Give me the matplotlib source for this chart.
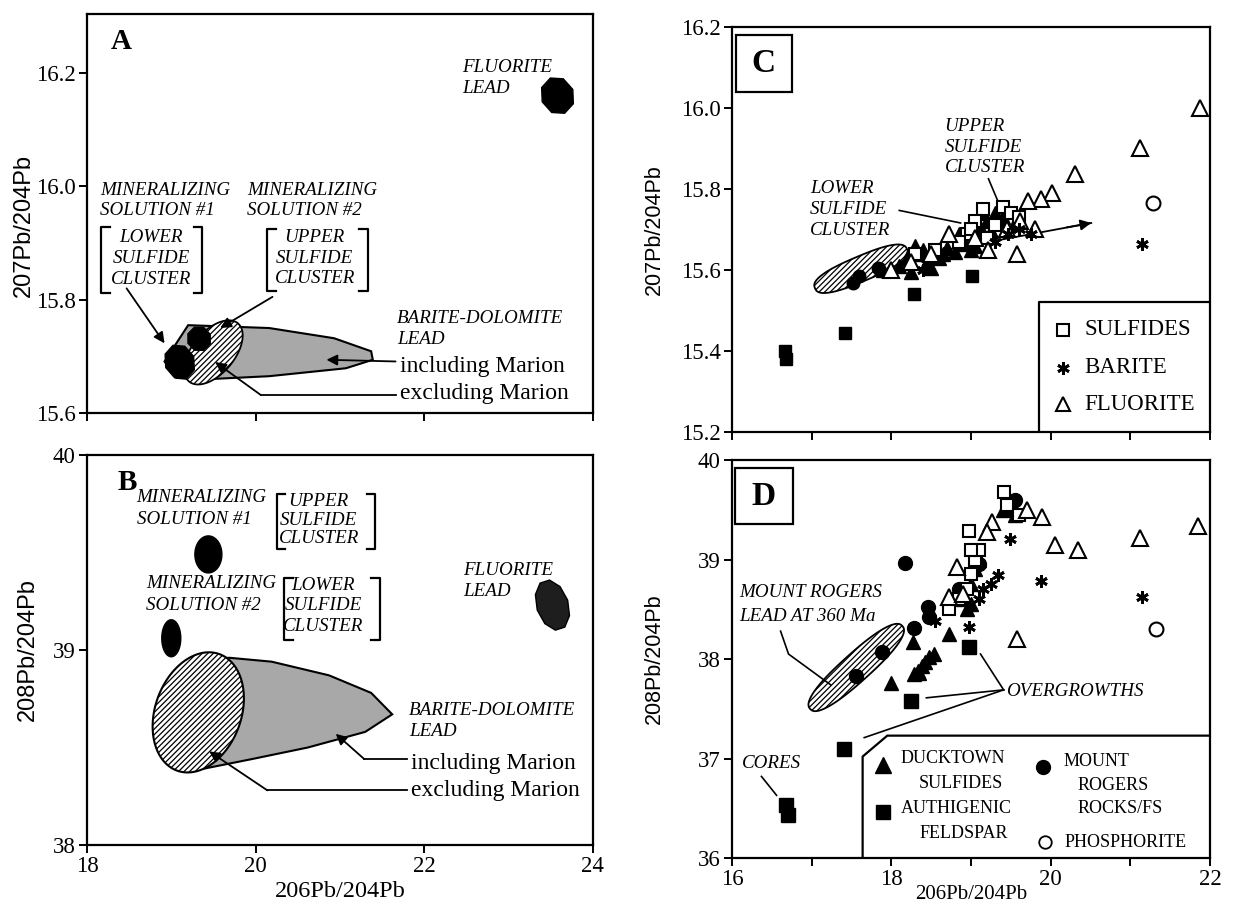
import numpy as np
import matplotlib.pyplot as plt
from matplotlib.patches import Polygon, Rectangle

plt.rcParams['font.family'] = 'Liberation Serif'
plt.rcParams['hatch.linewidth'] = 0.9

# ---------------- data ----------------
# panel A / B outlines (206Pb/204Pb vs 207Pb/204Pb, 208Pb/204Pb)
a_gray_x = [18.92, 19.20, 20.16, 20.93, 21.37, 21.39, 21.07, 20.16, 19.33, 19.06]
a_gray_y = [15.691, 15.755, 15.750, 15.732, 15.709, 15.694, 15.679, 15.665, 15.659, 15.662]
a_sol_x = [19.10, 19.33]
a_sol_y = [15.690, 15.731]
a_fluor = (23.58, 16.16)
a_hatch = (19.50, 15.707)

b_gray_x = [19.30, 19.69, 20.19, 20.87, 21.37, 21.62, 21.30, 20.62, 19.95, 19.37, 19.10]
b_gray_y = [38.95, 38.96, 38.94, 38.87, 38.78, 38.67, 38.58, 38.50, 38.44, 38.39, 38.40]
b_sol_x = [19.44, 19.00]
b_sol_y = [39.49, 39.06]
b_fluor = (23.52, 39.23)
b_hatch = (19.32, 38.68)

# panel C (207Pb/204Pb)
c_feld_x = [16.67, 16.68, 17.42, 18.28, 19.01]
c_feld_y = [15.400, 15.380, 15.445, 15.540, 15.584]
c_fluor_x = [21.87, 21.12, 20.31, 20.02, 19.88, 19.72, 19.58, 18.72, 19.21, 18.00, 19.62, 19.80, 19.45, 19.05, 18.50, 18.25]
c_fluor_y = [16.00, 15.90, 15.837, 15.79, 15.775, 15.77, 15.64, 15.69, 15.65, 15.60, 15.72, 15.70, 15.70, 15.68, 15.64, 15.62]
c_barite_x = [21.15, 19.60, 19.75, 19.30, 18.40, 19.46]
c_barite_y = [15.664, 15.700, 15.690, 15.670, 15.600, 15.690]
c_sulf_x = [19.15, 19.05, 19.40, 19.50, 19.30, 18.55, 18.30, 18.95, 19.60, 19.20, 18.85, 19.00]
c_sulf_y = [15.750, 15.720, 15.755, 15.740, 15.710, 15.650, 15.640, 15.690, 15.730, 15.680, 15.670, 15.700]
c_duck_x = [18.30, 18.20, 18.10, 18.35, 18.45, 18.50, 18.25, 18.60, 18.70, 18.90, 19.00, 19.05,
            18.95, 19.10, 19.20, 19.30, 19.40, 19.45, 19.35, 19.10, 18.80, 18.00, 17.90, 19.55, 19.25,
            18.40, 18.65, 18.85, 19.00, 19.15]
c_duck_y = [15.660, 15.630, 15.610, 15.640, 15.620, 15.605, 15.595, 15.630, 15.655, 15.665, 15.680, 15.660,
            15.700, 15.710, 15.720, 15.740, 15.730, 15.750, 15.720, 15.685, 15.645, 15.600, 15.600, 15.715, 15.695,
            15.650, 15.640, 15.690, 15.650, 15.740]
c_rog_x = [17.52, 17.60, 17.83]
c_rog_y = [15.567, 15.585, 15.605]
c_hatch = (17.62, 15.603)

# panel D (208Pb/204Pb)
d_feld_x = [16.68, 16.70, 17.41, 18.25, 18.98]
d_feld_y = [36.53, 36.43, 37.10, 37.58, 38.12]
d_duck_x = [18.00, 18.27, 18.72, 18.28, 18.33, 18.38, 18.42, 18.47, 18.53, 18.35,
            18.90, 19.00, 19.05, 19.10, 18.95, 19.40, 19.50, 19.55, 19.00, 18.85]
d_duck_y = [37.76, 38.17, 38.25, 37.85, 37.88, 37.93, 37.97, 38.02, 38.05, 37.86,
            38.60, 38.75, 38.90, 39.00, 38.50, 39.50, 39.55, 39.45, 38.55, 38.70]
d_rog_x = [18.17, 18.29, 18.46, 18.47, 17.88, 17.56, 19.55, 19.50, 19.05, 19.10, 18.85]
d_rog_y = [38.96, 38.31, 38.52, 38.42, 38.07, 37.83, 39.60, 39.50, 39.05, 38.95, 38.70]
d_barite_x = [19.49, 19.88, 21.15, 18.98, 19.34, 19.25, 18.55, 19.15, 19.10]
d_barite_y = [39.21, 38.78, 38.62, 38.32, 38.84, 38.75, 38.38, 38.70, 38.60]
d_phos_x = [21.32]
d_phos_y = [38.30]
d_fluor_x = [21.85, 21.12, 20.34, 20.05, 19.89, 19.58, 18.83, 18.73, 19.27, 19.20, 19.70, 18.90]
d_fluor_y = [39.34, 39.22, 39.10, 39.15, 39.43, 38.20, 38.92, 38.62, 39.38, 39.28, 39.50, 38.65]
d_sulf_x = [19.41, 18.98, 18.73, 19.05, 19.00, 18.95, 18.85, 19.10, 19.45, 19.60, 19.00]
d_sulf_y = [39.68, 39.29, 38.50, 39.00, 38.85, 38.70, 38.60, 39.10, 39.55, 39.45, 39.10]
d_hatch = (17.56, 37.915)

ITAL = 13.7


def blob(ax, x, y, w, h, ang=0, n=120, p=2.0, **kw):
    # ellipse-like outline sized in screen pixels, placed in data coords
    x0, x1 = ax.get_xlim()
    y0, y1 = ax.get_ylim()
    sx = ax.bbox.width / (x1 - x0)
    sy = ax.bbox.height / (y1 - y0)
    t = np.linspace(0, 2 * np.pi, n, endpoint=False)
    c, s = np.cos(t), np.sin(t)
    u = w / 2 * np.sign(c) * np.abs(c) ** (2 / p)
    v = h / 2 * np.sign(s) * np.abs(s) ** (2 / p)
    a = np.radians(ang)
    xs = x + (u * np.cos(a) - v * np.sin(a)) / sx
    ys = y + (u * np.sin(a) + v * np.cos(a)) / sy
    ax.add_patch(Polygon(np.column_stack([xs, ys]), closed=True, **kw))


def style(ax, xlim, ylim, yticks, fmt, ylabel, lsize):
    ax.set_xlim(*xlim)
    ax.set_ylim(*ylim)
    ax.set_yticks(yticks)
    ax.set_yticklabels([fmt % v for v in yticks])
    ax.tick_params(direction='out', length=6, width=1.4, labelsize=16.5, pad=2)
    ax.tick_params(which='minor', direction='out', length=6, width=1.4)
    for sp in ax.spines.values():
        sp.set_linewidth(1.6)
    ax.set_ylabel(ylabel, family='Liberation Sans', fontsize=lsize)


def it(ax, x, y, s, size=ITAL, **kw):
    ax.text(x, y, s, style='italic', fontsize=size, va='center', ha='left', **kw)


def arrow(ax, x0, y0, x1, y1):
    ax.annotate('', xy=(x1, y1), xytext=(x0, y0),
                arrowprops=dict(arrowstyle='-|>', color='k', lw=1.3,
                                mutation_scale=16, shrinkA=0, shrinkB=0))


def bracket(ax, xl, xr, y0, y1, d=0.1):
    ax.plot([xl + d, xl, xl, xl + d], [y1, y1, y0, y0], color='k', lw=1.6)
    ax.plot([xr - d, xr, xr, xr - d], [y1, y1, y0, y0], color='k', lw=1.6)


fig = plt.figure(figsize=(12.35, 9.05), dpi=100)
axA = fig.add_axes([0.0704, 0.5436, 0.4097, 0.4409])
axB = fig.add_axes([0.0704, 0.0663, 0.4097, 0.4310])
axC = fig.add_axes([0.5927, 0.5227, 0.3870, 0.4475])
axD = fig.add_axes([0.5927, 0.0519, 0.3870, 0.4398])

# ---------------- panel A ----------------
style(axA, (18, 24), (15.6, 16.304), [15.6, 15.8, 16.0, 16.2], '%.1f', '207Pb/204Pb', 17)
axA.set_xticks([18, 20, 22, 24])
axA.set_xticklabels([])
axA.yaxis.set_label_coords(-0.102, 0.47)
axA.add_patch(Polygon(np.column_stack([a_gray_x, a_gray_y]), closed=True,
                      facecolor='#a8a8a8', edgecolor='k', lw=1.5))
blob(axA, a_hatch[0], a_hatch[1], 76, 42, ang=50, facecolor='white',
     edgecolor='k', hatch='//////', lw=1.3)
blob(axA, a_sol_x[0], a_sol_y[0], 30, 36, facecolor='k', edgecolor='k', n=8, ang=22)
blob(axA, a_sol_x[1], a_sol_y[1], 24, 25, facecolor='k', edgecolor='k', n=8, ang=22)
blob(axA, a_fluor[0], a_fluor[1], 33, 38, facecolor='k', edgecolor='k', n=8, ang=22)
axA.text(18.28, 16.255, 'A', fontsize=21, fontweight='bold', va='center')
it(axA, 22.45, 16.21, 'FLUORITE')
it(axA, 22.45, 16.172, 'LEAD')
it(axA, 18.16, 15.993, 'MINERALIZING')
it(axA, 18.16, 15.957, 'SOLUTION #1')
it(axA, 19.90, 15.993, 'MINERALIZING')
it(axA, 19.90, 15.957, 'SOLUTION #2')
bracket(axA, 18.17, 19.37, 15.811, 15.928)
bracket(axA, 20.14, 21.33, 15.815, 15.925)
for s, yy in zip(['LOWER', 'SULFIDE', 'CLUSTER'], [15.910, 15.872, 15.835]):
    axA.text(18.76, yy, s, style='italic', fontsize=ITAL, ha='center', va='center')
for s, yy in zip(['UPPER', 'SULFIDE', 'CLUSTER'], [15.910, 15.873, 15.838]):
    axA.text(20.70, yy, s, style='italic', fontsize=ITAL, ha='center', va='center')
it(axA, 21.68, 15.767, 'BARITE-DOLOMITE')
it(axA, 21.68, 15.729, 'LEAD')
axA.text(21.71, 15.682, 'including Marion', fontsize=17, va='center')
axA.text(21.71, 15.634, 'excluding Marion', fontsize=17, va='center')
arrow(axA, 18.47, 15.820, 18.92, 15.723)
arrow(axA, 20.20, 15.805, 19.58, 15.750)
arrow(axA, 21.66, 15.691, 20.84, 15.694)
axA.plot([21.66, 20.06], [15.632, 15.632], color='k', lw=1.3)
arrow(axA, 20.06, 15.632, 19.52, 15.690)

# ---------------- panel B ----------------
style(axB, (18, 24), (38, 40), [38, 39, 40], '%d', '208Pb/204Pb', 17)
axB.set_xticks([18, 20, 22, 24])
axB.set_xticklabels(['18', '20', '22', '24'])
axB.set_xlabel('206Pb/204Pb', fontsize=17.5, labelpad=3)
axB.yaxis.set_label_coords(-0.095, 0.5)
axB.add_patch(Polygon(np.column_stack([b_gray_x, b_gray_y]), closed=True,
                      facecolor='#a8a8a8', edgecolor='k', lw=1.5))
blob(axB, b_hatch[0], b_hatch[1], 124, 86, ang=70, facecolor='white',
     edgecolor='k', hatch='//////', lw=1.5)
blob(axB, b_sol_x[0], b_sol_y[0], 27, 37, facecolor='k', edgecolor='k')
blob(axB, b_sol_x[1], b_sol_y[1], 19, 37, facecolor='k', edgecolor='k')
blob(axB, b_fluor[0], b_fluor[1], 32, 52, facecolor='#1e1e1e', edgecolor='k', n=10, ang=18)
axB.text(18.36, 39.86, 'B', fontsize=21, fontweight='bold', va='center')
it(axB, 18.59, 39.78, 'MINERALIZING')
it(axB, 18.59, 39.67, 'SOLUTION #1')
it(axB, 18.70, 39.34, 'MINERALIZING')
it(axB, 18.70, 39.23, 'SOLUTION #2')
bracket(axB, 20.25, 21.42, 39.52, 39.80)
bracket(axB, 20.34, 21.47, 39.05, 39.37)
for s, yy in zip(['UPPER', 'SULFIDE', 'CLUSTER'], [39.76, 39.665, 39.57]):
    axB.text(20.75, yy, s, style='italic', fontsize=ITAL, ha='center', va='center')
for s, yy in zip(['LOWER', 'SULFIDE', 'CLUSTER'], [39.33, 39.23, 39.12]):
    axB.text(20.80, yy, s, style='italic', fontsize=ITAL, ha='center', va='center')
it(axB, 22.46, 39.41, 'FLUORITE')
it(axB, 22.46, 39.30, 'LEAD')
it(axB, 21.82, 38.69, 'BARITE-DOLOMITE')
it(axB, 21.82, 38.58, 'LEAD')
axB.text(21.84, 38.42, 'including Marion', fontsize=17, va='center')
axB.text(21.84, 38.28, 'excluding Marion', fontsize=17, va='center')
axB.plot([21.80, 21.29], [38.44, 38.44], color='k', lw=1.3)
arrow(axB, 21.29, 38.44, 20.95, 38.57)
axB.plot([21.80, 20.14], [38.28, 38.28], color='k', lw=1.3)
arrow(axB, 20.14, 38.28, 19.45, 38.48)

# ---------------- panel C ----------------
style(axC, (16, 22), (15.2, 16.2), [15.2, 15.4, 15.6, 15.8, 16.0, 16.2], '%.1f', '207Pb/204Pb', 15.5)
axC.set_xticks(np.arange(16, 23, 1))
axC.set_xticklabels([])
axC.yaxis.set_label_coords(-0.14, 0.5)
blob(axC, c_hatch[0], c_hatch[1], 100, 25, ang=23, p=2.6, facecolor='white',
     edgecolor='k', hatch='//////', lw=1.3, zorder=1)
axC.plot([18.2, 20.51], [15.632, 15.716], color='k', lw=1.3, zorder=2)
arrow(axC, 20.2, 15.705, 20.51, 15.716)
mk = dict(linestyle='none', zorder=3)
axC.plot(c_feld_x, c_feld_y, marker='s', ms=9, color='k', **mk)
axC.plot(c_rog_x, c_rog_y, marker='o', ms=9, color='k', **mk)
axC.plot(c_duck_x, c_duck_y, marker='^', ms=10, color='k', **mk)
axC.plot(c_sulf_x, c_sulf_y, marker='s', ms=9, mfc='white', mec='k', mew=1.5, **mk)
axC.plot(c_fluor_x, c_fluor_y, marker='^', ms=11, mfc='white', mec='k', mew=1.5, **mk)
axC.plot(c_barite_x, c_barite_y, marker=(6, 2, 0), ms=9, mec='k', mew=2, **mk)
axC.plot([21.28], [15.765], marker='o', ms=10, mfc='white', mec='k', mew=1.5, **mk)
axC.add_patch(Rectangle((16.05, 16.04), 0.70, 0.14, facecolor='white', edgecolor='k', lw=1.6))
axC.text(16.40, 16.11, 'C', fontsize=24, fontweight='bold', ha='center', va='center')
for s, yy in zip(['LOWER', 'SULFIDE', 'CLUSTER'], [15.800, 15.749, 15.698]):
    it(axC, 16.98, yy, s)
for s, yy in zip(['UPPER', 'SULFIDE', 'CLUSTER'], [15.955, 15.902, 15.853]):
    it(axC, 18.67, yy, s)
axC.plot([18.10, 18.87], [15.747, 15.716], color='k', lw=1.2)
axC.plot([19.22, 19.37], [15.825, 15.755], color='k', lw=1.2)
axC.plot([19.85, 19.85, 22], [15.2, 15.52, 15.52], color='k', lw=1.6)
axC.plot([20.16], [15.452], marker='s', ms=8, mfc='white', mec='k', mew=1.5, **mk)
axC.plot([20.16], [15.358], marker=(6, 2, 0), ms=9, mec='k', mew=2, **mk)
axC.plot([20.16], [15.268], marker='^', ms=10, mfc='white', mec='k', mew=1.5, **mk)
axC.text(20.42, 15.452, 'SULFIDES', fontsize=16.5, va='center')
axC.text(20.42, 15.358, 'BARITE', fontsize=16.5, va='center')
axC.text(20.42, 15.268, 'FLUORITE', fontsize=16.5, va='center')

# ---------------- panel D ----------------
style(axD, (16, 22), (36, 40), [36, 37, 38, 39, 40], '%d', '208Pb/204Pb', 15.5)
axD.set_xticks([16, 18, 20, 22])
axD.set_xticks([17, 19, 21], minor=True)
axD.set_xlabel('206Pb/204Pb', fontsize=15, labelpad=-4)
axD.yaxis.set_label_coords(-0.14, 0.5)
blob(axD, d_hatch[0], d_hatch[1], 124, 28, ang=42, p=2.4, facecolor='white',
     edgecolor='k', hatch='//////', lw=1.3, zorder=1)
axD.plot(d_feld_x, d_feld_y, marker='s', ms=10, color='k', **mk)
axD.plot(d_duck_x, d_duck_y, marker='^', ms=10, color='k', **mk)
axD.plot(d_rog_x, d_rog_y, marker='o', ms=10, color='k', **mk)
axD.plot(d_sulf_x, d_sulf_y, marker='s', ms=9, mfc='white', mec='k', mew=1.5, **mk)
axD.plot(d_fluor_x, d_fluor_y, marker='^', ms=11, mfc='white', mec='k', mew=1.5, **mk)
axD.plot(d_barite_x, d_barite_y, marker=(6, 2, 0), ms=9, mec='k', mew=2, **mk)
axD.plot(d_phos_x, d_phos_y, marker='o', ms=10, mfc='white', mec='k', mew=1.5, **mk)
axD.add_patch(Rectangle((16.04, 39.36), 0.72, 0.56, facecolor='white', edgecolor='k', lw=1.6))
axD.text(16.40, 39.63, 'D', fontsize=24, fontweight='bold', ha='center', va='center')
it(axD, 16.09, 38.67, 'MOUNT ROGERS')
it(axD, 16.09, 38.43, 'LEAD AT 360 Ma')
axD.plot([16.61, 16.71, 17.24], [38.28, 38.05, 37.74], color='k', lw=1.2)
it(axD, 16.12, 36.95, 'CORES')
axD.plot([16.37, 16.56], [36.82, 36.63], color='k', lw=1.2)
it(axD, 19.44, 37.67, 'OVERGROWTHS')
for tx, ty in [(19.12, 38.05), (18.44, 37.61), (17.66, 37.21)]:
    axD.plot([19.41, tx], [37.69, ty], color='k', lw=1.2)
axD.plot([22, 17.95, 17.64, 17.64], [37.23, 37.23, 37.02, 36.0], color='k', lw=1.6)
axD.plot([17.90], [36.93], marker='^', ms=11, color='k', **mk)
axD.plot([17.89], [36.46], marker='s', ms=10, color='k', **mk)
axD.plot([19.91], [36.91], marker='o', ms=10, color='k', **mk)
axD.plot([19.93], [36.16], marker='o', ms=9, mfc='white', mec='k', mew=1.3, **mk)
for x, y, s in [(18.12, 37.00, 'DUCKTOWN'), (18.35, 36.75, 'SULFIDES'),
                (18.12, 36.50, 'AUTHIGENIC'), (18.35, 36.25, 'FELDSPAR'),
                (20.16, 36.97, 'MOUNT'), (20.34, 36.73, 'ROGERS'),
                (20.34, 36.50, 'ROCKS/FS'), (20.17, 36.16, 'PHOSPHORITE')]:
    axD.text(x, y, s, fontsize=13, va='center')

fig.savefig('out.png', dpi=100)
